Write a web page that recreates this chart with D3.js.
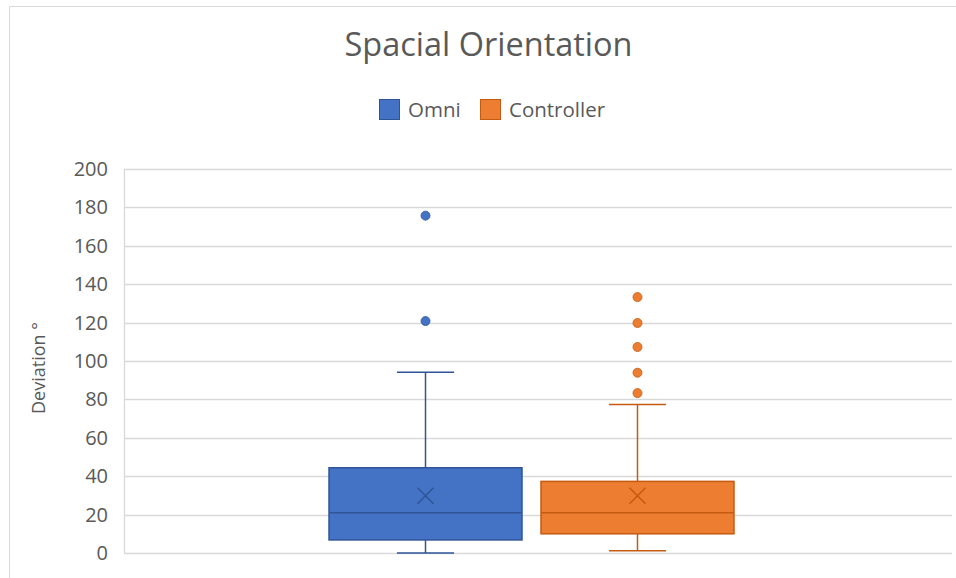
<!DOCTYPE html>
<html>
<head>
<meta charset="utf-8">
<script src="https://cdn.jsdelivr.net/npm/d3@7"></script>
<style>
  html, body { margin: 0; padding: 0; background: #fff; }
  svg { display: block; }
  text { font-family: "Open Sans", "Noto Sans", sans-serif; fill: #595959; }
</style>
</head>
<body>
<svg id="chart" width="956" height="578"></svg>
<script>
// ---- data ----
const seriesNames = ["Omni", "Controller"];
const minValues = [0, 1.2];
const q1Values = [6.8, 10];
const medianValues = [21, 21];
const q3Values = [44.4, 37.3];
const maxValues = [94.1, 77.4];
const meanValues = [29.8, 29.8];
const outlierOmni = [175.7, 120.8];
const outlierController = [133.3, 119.8, 107.3, 93.9, 83.3];
const yTicks = [0, 20, 40, 60, 80, 100, 120, 140, 160, 180, 200];
const fillColors = ["#4472C4", "#ED7D31"];
const strokeColors = ["#2F5597", "#C55A11"];

const outliers = [outlierOmni, outlierController];
const boxes = seriesNames.map((name, i) => ({
  name, min: minValues[i], q1: q1Values[i], median: medianValues[i],
  q3: q3Values[i], max: maxValues[i], mean: meanValues[i], outliers: outliers[i],
  fill: fillColors[i], stroke: strokeColors[i]
}));

// ---- layout ----
const svg = d3.select("#chart");
const W = 956, H = 578;
const margin = { left: 124, right: 4, top: 169, bottom: 25 };
const plotW = W - margin.left - margin.right;
const plotH = H - margin.top - margin.bottom;

// chart frame
svg.append("path")
  .attr("d", `M9.5,${H + 2} V6.5 H${W + 2}`)
  .attr("fill", "none").attr("stroke", "#d9d9d9").attr("stroke-width", 1);

const g = svg.append("g").attr("transform", `translate(${margin.left},${margin.top})`);

const y = d3.scaleLinear().domain([0, 200]).range([plotH, 0]);
const x0 = d3.scaleBand().domain([""]).range([0, plotW]);
const x1 = d3.scaleBand().domain(seriesNames)
  .range([x0.bandwidth() * 0.2476, x0.bandwidth() * 0.7367])
  .paddingInner(0.0896);

// gridlines
g.append("g").selectAll("line").data(yTicks).join("line")
  .attr("x1", 0).attr("x2", plotW)
  .attr("y1", d => Math.round(y(d)) + 0.5).attr("y2", d => Math.round(y(d)) + 0.5)
  .attr("stroke", "#d9d9d9").attr("stroke-width", 1.3);

// left axis line
g.append("line")
  .attr("x1", 0.5).attr("x2", 0.5).attr("y1", y(200)).attr("y2", y(0))
  .attr("stroke", "#d9d9d9").attr("stroke-width", 1.3);

// y axis tick labels
const yAxis = d3.axisLeft(y).tickValues(yTicks).tickSize(0).tickPadding(16);
const ya = g.append("g").call(yAxis);
ya.select(".domain").remove();
ya.selectAll("text").style("font-size", "20px").attr("fill", "#595959")
  .style("font-family", '"Open Sans", "Noto Sans", sans-serif');

// y axis title
svg.append("text")
  .attr("transform", `translate(45,368) rotate(-90)`)
  .attr("text-anchor", "middle")
  .style("font-size", "18px")
  .text("Deviation °");

// title
svg.append("text")
  .attr("x", 488.5).attr("y", 56)
  .attr("text-anchor", "middle")
  .style("font-size", "32.5px")
  .text("Spacial Orientation");

// legend
const legend = svg.append("g").attr("transform", "translate(379,99)");
const legendItems = [{ name: "Omni", x: 0 }, { name: "Controller", x: 101 }];
legendItems.forEach((it, i) => {
  const lg = legend.append("g").attr("transform", `translate(${it.x},0)`);
  lg.append("rect").attr("x", 0.5).attr("y", 0.5).attr("width", 20).attr("height", 20)
    .attr("fill", fillColors[i]).attr("stroke", strokeColors[i]).attr("stroke-width", 1);
  lg.append("text").attr("x", 29).attr("y", 18).style("font-size", "20.5px").text(it.name);
});

// boxes
const bw = x1.bandwidth();
const capW = bw * 0.148;
const bg = g.append("g").selectAll("g").data(boxes).join("g")
  .attr("transform", d => `translate(${x0("") + x1(d.name)},0)`);

// whiskers
bg.append("line").attr("x1", bw / 2).attr("x2", bw / 2)
  .attr("y1", d => y(d.q3)).attr("y2", d => y(d.max))
  .attr("stroke", d => d.stroke).attr("stroke-width", 1.5);
bg.append("line").attr("x1", bw / 2).attr("x2", bw / 2)
  .attr("y1", d => y(d.q1)).attr("y2", d => y(d.min))
  .attr("stroke", d => d.stroke).attr("stroke-width", 1.5);
bg.append("line").attr("x1", bw / 2 - capW).attr("x2", bw / 2 + capW)
  .attr("y1", d => y(d.max)).attr("y2", d => y(d.max))
  .attr("stroke", d => d.stroke).attr("stroke-width", 1.5);
bg.append("line").attr("x1", bw / 2 - capW).attr("x2", bw / 2 + capW)
  .attr("y1", d => y(d.min)).attr("y2", d => y(d.min))
  .attr("stroke", d => d.stroke).attr("stroke-width", 1.5);

// box
bg.append("rect").attr("x", 0).attr("width", bw)
  .attr("y", d => y(d.q3)).attr("height", d => y(d.q1) - y(d.q3))
  .attr("fill", d => d.fill).attr("stroke", d => d.stroke).attr("stroke-width", 1.5);

// median
bg.append("line").attr("x1", 0).attr("x2", bw)
  .attr("y1", d => y(d.median)).attr("y2", d => y(d.median))
  .attr("stroke", d => d.stroke).attr("stroke-width", 1.5);

// mean marker
const m = 8;
bg.append("path")
  .attr("d", d => `M${bw / 2 - m},${y(d.mean) - m}L${bw / 2 + m},${y(d.mean) + m}M${bw / 2 + m},${y(d.mean) - m}L${bw / 2 - m},${y(d.mean) + m}`)
  .attr("stroke", d => d.stroke).attr("stroke-width", 1.5).attr("fill", "none");

// outliers
bg.each(function (d) {
  d3.select(this).selectAll("circle").data(d.outliers).join("circle")
    .attr("cx", bw / 2).attr("cy", v => y(v)).attr("r", 4.5)
    .attr("fill", d.fill).attr("stroke", d.stroke).attr("stroke-width", 0.8);
});
</script>
</body>
</html>
